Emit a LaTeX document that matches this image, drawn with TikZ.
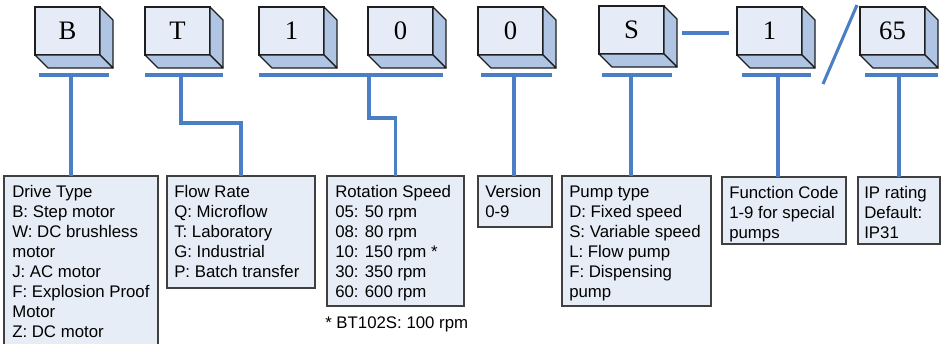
\documentclass[tikz,border=0pt]{standalone}
\usepackage{fontspec}
\setmainfont{Liberation Sans}
\newfontfamily\cubefont{Liberation Serif}
\definecolor{frontc}{HTML}{E6ECF7}
\definecolor{sidec}{HTML}{B0C5E4}
\definecolor{edgec}{HTML}{1E1E1E}
\definecolor{boxfill}{HTML}{E6EDF7}
\definecolor{boxline}{HTML}{404040}
\definecolor{linkc}{HTML}{4A7EC5}
\begin{document}
\begin{tikzpicture}[x=0.75pt,y=-0.75pt,
  front/.style={draw=edgec, fill=frontc, line width=0.9pt, minimum width=48.75pt,
    minimum height=36pt, inner sep=0pt, outer sep=0pt, anchor=north west,
    font=\cubefont\fontsize{20}{24}\selectfont},
  side/.style={draw=edgec, fill=sidec, line width=0.9pt, line join=round},
  infobox/.style={draw=boxline, fill=boxfill, line width=1pt, inner sep=0pt, outer sep=0pt, anchor=north west},
  lab/.style={align=left, inner sep=0pt, anchor=base west, font=\fontsize{12.6}{15}\selectfont},
  link/.style={draw=linkc, line width=2.3pt}]
\useasboundingbox (0,0) rectangle (944,343);

% cubes (front faces)
\node[front] (cB) at (35,7) {B};
\node[front] (cT) at (145,7) {T};
\node[front] (c1) at (259,7) {1};
\node[front] (c0a) at (368,7) {0};
\node[front] (c0b) at (478,7) {0};
\node[front] (cS) at (599,6) {S};
\node[front] (cF) at (737,7) {1};
\node[front] (cIP) at (860,7) {65};
\foreach \c in {cB,cT,c1,c0a,c0b,cS,cF,cIP}{
  \path[side] (\c.north east) -- ++(13,13) -- ++(0,48) -- (\c.south east) -- cycle;
  \path[side] (\c.south west) -- ++(13,13) -- ++(65,0) -- (\c.south east) -- cycle;
}

% info boxes
\node[infobox, minimum width=115.5pt, minimum height=135pt] (drive) at (4,176) {};
\node[infobox, minimum width=111pt, minimum height=84pt] (flow) at (167,176) {};
\node[infobox, minimum width=102.75pt, minimum height=97.5pt] (rot) at (327,176) {};
\node[infobox, minimum width=55.5pt, minimum height=38.25pt] (ver) at (478,176) {};
\node[infobox, minimum width=111.75pt, minimum height=97.5pt] (pump) at (562,176) {};
\node[infobox, minimum width=93pt, minimum height=50.25pt] (func) at (722,177) {};
\node[infobox, minimum width=61.5pt, minimum height=50.25pt] (ip) at (858,177) {};

% texts (anchored at the baseline of their last line)
\node[lab] (tdrive) at (12,337.5) {Drive Type\\B: Step motor\\W: DC brushless\\motor\\J: AC motor\\F: Explosion Proof\\Motor\\Z: DC motor};
\node[lab] (tflow) at (174,277.5) {Flow Rate\\Q: Microflow\\T: Laboratory\\G: Industrial\\P: Batch transfer};
\node[lab] (trot) at (335,297.5) {Rotation Speed\\05: 50 rpm\\08: 80 rpm\\10: 150 rpm *\\30: 350 rpm\\60: 600 rpm};
\node[lab] (tnote) at (325,328) {* BT102S: 100 rpm};
\node[lab] (tver) at (485,217.5) {Version\\0-9};
\node[lab] (tpump) at (569,297.5) {Pump type\\D: Fixed speed\\S: Variable speed\\L: Flow pump\\F: Dispensing\\pump};
\node[lab] (tfunc) at (729,238.5) {Function Code\\1-9 for special\\pumps};
\node[lab] (tip) at (864,238.5) {IP rating\\Default:\\IP31};

% bars
\coordinate (bB) at (71,75);
\coordinate (bT) at (181,75);
\coordinate (b1) at (369,75);
\coordinate (b0) at (514,75);
\coordinate (bS) at (631,75);
\coordinate (bF) at (778,75);
\coordinate (bIP) at (899,75);
\draw[link] (39,75) -- (109,75);
\draw[link] (145,75) -- (223,75);
\draw[link] (259,75) -- (443,75);
\draw[link] (481,75) -- (552,75);
\draw[link] (602,75) -- (672,75);
\draw[link] (742,75) -- (811,75);
\draw[link] (865,75) -- (938,75);

% connectors
\draw[link] (bB) -- (bB |- drive.north);
\draw[link] (bT) -- ++(0,48) -| (flow.north);
\draw[link] (b1) -- ++(0,43) -| (rot.north);
\draw[link] (b0) -- (b0 |- ver.north);
\draw[link] (bS) -- (bS |- pump.north);
\draw[link] (bF) -- (bF |- func.north);
\draw[link] (bIP) -- (bIP |- ip.north);

% separators
\coordinate (d1) at (682,33);
\coordinate (d2) at (729,33);
\draw[link] (d1) -- (d2);
\coordinate (s1) at (857,5);
\coordinate (s2) at (823,84);
\draw[link] (s1) -- (s2);
\end{tikzpicture}
\end{document}
